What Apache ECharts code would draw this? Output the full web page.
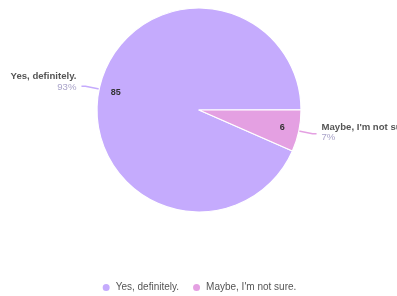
<!DOCTYPE html>
<html><head><meta charset="utf-8">
<script src="https://cdn.jsdelivr.net/npm/echarts@6/dist/echarts.min.js"></script>
<style>html,body{margin:0;padding:0;background:#fff}#c{width:397px;height:296px}</style>
</head><body><div id="c"></div>
<script>
const categories = ["Yes, definitely.", "Maybe, I'm not sure."];
const values = [85, 6];
const colors = ['#c5abfd', '#e4a0e2'];

const data = categories.map((n, i) => ({
  name: n, value: values[i], itemStyle: { color: colors[i] },
  label: i === 0 ? { padding: [0, 0, 9, 0] } : { padding: [0, 0, 3, 0] }
}));
const chart = echarts.init(document.getElementById('c'));
chart.setOption({
  animation: false,
  textStyle: { fontFamily: 'Liberation Sans, Arial, sans-serif' },
  legend: {
    bottom: 3, left: 'center', icon: 'circle', itemWidth: 9, itemHeight: 9, itemGap: 12, padding: 0,
    textStyle: { color: '#555', fontSize: 10 }, data: categories
  },
  series: [{
    type: 'pie', center: [199, 110], radius: 102, startAngle: -23.7,
    percentPrecision: 0,
    itemStyle: { borderColor: '#fff', borderWidth: 1.2 },
    label: {
      position: 'outside', overflow: 'none',
      formatter: '{n|{b}}\n{p|{d}%}',
      rich: {
        n: { color: '#555', fontSize: 9.6, fontWeight: 'bold', lineHeight: 11 },
        p: { color: '#a9a3c9', fontSize: 9.6, lineHeight: 10 }
      }
    },
    labelLine: { length: 14, length2: 4, lineStyle: { width: 1.5 } },
    data: data
  }, {
    type: 'pie', center: [199, 110], radius: [62, 102], startAngle: -23.7, silent: true,
    itemStyle: { color: 'transparent' },
    label: { position: 'inside', formatter: '{c}', color: '#333', fontSize: 9, fontWeight: 'bold' },
    labelLine: { show: false },
    data: categories.map((n, i) => ({ name: n, value: values[i] }))
  }]
});
</script></body></html>
